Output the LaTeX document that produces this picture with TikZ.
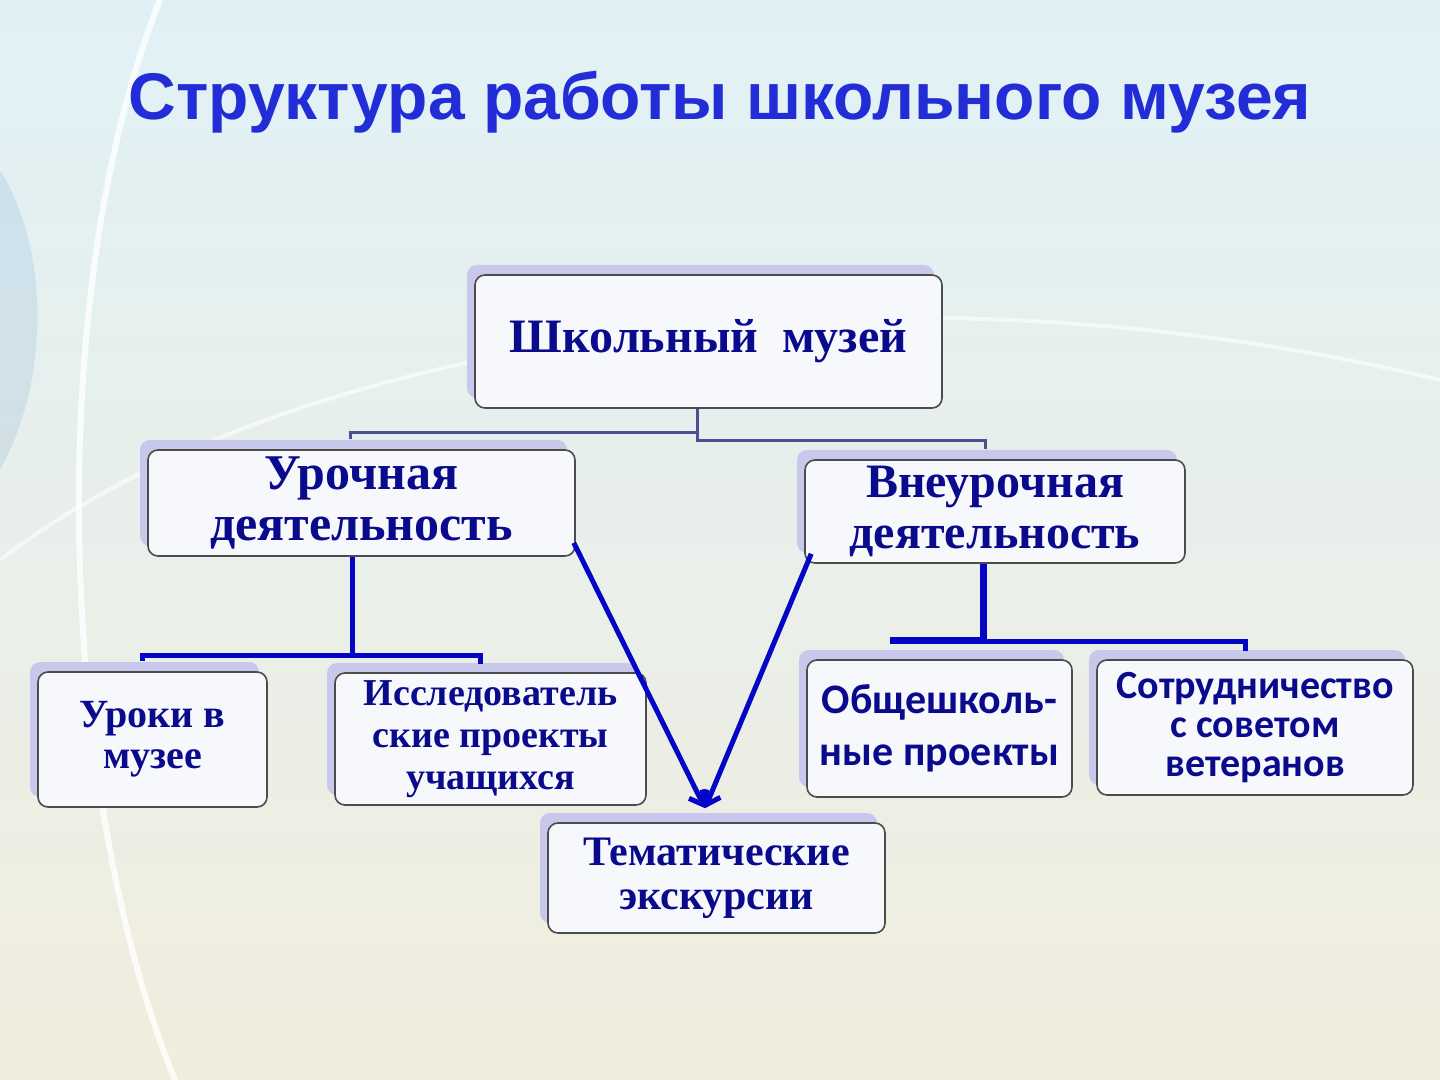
\documentclass[tikz,border=0pt]{standalone}
\usepackage{fontspec}
\setmainfont{Liberation Serif}
\newfontfamily\titlefont{Liberation Sans}
\newfontfamily\narrowfont{Carlito}
\usetikzlibrary{positioning,arrows.meta,calc,shadows}
\definecolor{ink}{RGB}{10,10,140}
\definecolor{titleblue}{RGB}{35,45,215}
\definecolor{linkblue}{RGB}{5,5,200}
\definecolor{thinlink}{RGB}{75,80,150}
\definecolor{lav}{RGB}{200,200,236}
\definecolor{boxfill}{RGB}{247,248,252}
\definecolor{skytop}{RGB}{224,241,246}
\definecolor{sand}{RGB}{241,237,222}
\newcommand\fs[2]{\bfseries\fontsize{#1}{#2}\selectfont}

\begin{document}
\begin{tikzpicture}[x=0.5pt,y=-0.5pt,
    box/.style={draw=black!70,line width=0.8pt,rounded corners=5pt,align=center,text=ink,inner sep=2pt,fill=boxfill,
      general shadow={fill=lav,shadow xshift=-4pt,shadow yshift=5pt}},
    elbow/.style={draw=thinlink,line width=1.5pt},
    branch/.style={draw=linkblue,line width=2.5pt},
    pointer/.style={draw=linkblue,line width=2.5pt,-{Straight Barb[length=6pt,width=10pt]}}]
  \useasboundingbox (0,0) rectangle (1440,1080);
  % background
  \shade[top color=skytop,middle color=white!95!yellow,bottom color=sand] (0,0) rectangle (1440,1080);
  \fill[cyan!40!blue,opacity=0.1] (0,170) .. controls (50,250) and (50,380) .. (0,470) -- cycle;
  \draw[white,line width=3pt,opacity=0.8] (160,0) .. controls (40,300) and (60,800) .. (175,1080);
  \draw[white,line width=2pt,opacity=0.6] (0,560) .. controls (300,330) and (900,250) .. (1440,380);

  \node[font=\titlefont\fs{33}{33},text=titleblue] (title) at (720,102) {Структура работы школьного музея};

  % boxes
  \node[box,minimum width=233.5pt,minimum height=66.5pt,font=\fs{24}{26}] (museum) at (708.5,341.5) {Школьный\ \ музей};
  \node[box,minimum width=213.5pt,minimum height=53pt,font=\fs{25}{25.5}] (uroch) at (361.5,503) {Урочная\\деятельность};
  \node[box,minimum width=190pt,minimum height=51.5pt,font=\fs{24}{25.5}] (vneur) at (995,511.5) {Внеурочная\\деятельность};
  \node[box,minimum width=114.5pt,minimum height=67.5pt,font=\fs{20}{20.5}] (uroki) at (152.5,739.5) {Уроки в\\музее};
  \node[box,minimum width=155.5pt,minimum height=66pt,font=\fs{19}{21}] (issled) at (490.5,739) {Исследователь\\ские проекты\\учащихся};
  \node[box,minimum width=132.5pt,minimum height=68.5pt,font=\narrowfont\fs{21}{26}] (obsh) at (939.5,728.5) {Общешколь-\\ные проекты};
  \node[box,minimum width=158pt,minimum height=67.5pt,font=\narrowfont\fs{20}{19.5}] (sotr) at (1255,727.5) {Сотрудничество\\с советом\\ветеранов};
  \node[box,minimum width=168.5pt,minimum height=55pt,font=\fs{21}{22}] (tema) at (716.5,878) {Тематические\\экскурсии};

  % connectors
  \draw[elbow] ([xshift=-5.75pt]museum.south) -- ++(0,24) -| ([xshift=-5.75pt,yshift=5pt]uroch.north);
  \draw[elbow] ([xshift=-5.75pt]museum.south) -- ++(0,32) -| ([xshift=-5pt,yshift=5pt]vneur.north);
  \draw[branch] ([xshift=-4.75pt]uroch.south) -- ++(0,99) -| ([xshift=-5.25pt,yshift=5pt]uroki.north);
  \draw[branch] ([xshift=-4.75pt]uroch.south) -- ++(0,99) -| ([xshift=-5.25pt,yshift=4pt]issled.north);
  \coordinate (obshend) at ($(obsh.north)+(-49.5,-19)$);
  \draw[branch] ([xshift=-6pt]vneur.south) -- ++(0,78) -| ([xshift=-5pt,yshift=4pt]sotr.north);
  \draw[branch,line width=3.5pt] ([xshift=-6pt]vneur.south) |- (obshend);
  \coordinate (tip) at ($(tema.north)+(-11.5,-14)$);
  \draw[pointer] ([xshift=-1pt,yshift=7pt]uroch.south east) -- (tip);
  \draw[pointer] ([xshift=3.5pt,yshift=5pt]vneur.south west) -- (tip);
\end{tikzpicture}
\end{document}
